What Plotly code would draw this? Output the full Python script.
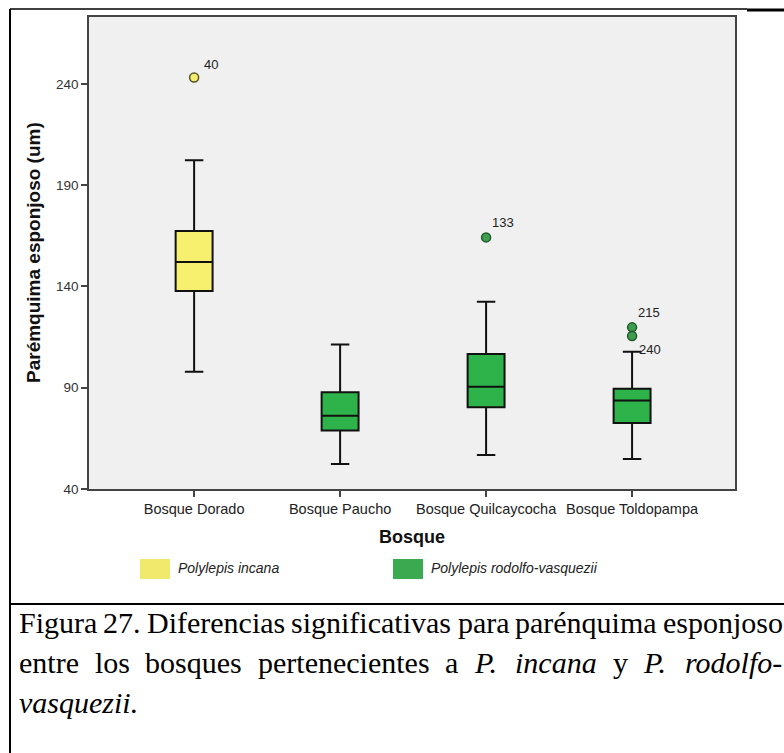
import plotly.graph_objects as go

# ---------------- data ----------------
categories = ["Bosque Dorado", "Bosque Paucho", "Bosque Quilcaycocha", "Bosque Toldopampa"]
species = ["incana", "rodolfo", "rodolfo", "rodolfo"]
q1_vals = [137.7, 68.9, 80.3, 72.6]
median_vals = [152.1, 76.2, 90.5, 83.7]
q3_vals = [167.3, 87.7, 106.6, 89.5]
lower_whisker = [97.9, 52.3, 56.8, 54.8]
upper_whisker = [202.3, 111.3, 132.4, 107.7]

outlier_cats = ["Bosque Dorado", "Bosque Quilcaycocha", "Bosque Toldopampa", "Bosque Toldopampa"]
outlier_vals = [243.1, 164.2, 119.8, 115.5]
outlier_ids = ["40", "133", "215", "240"]

y_ticks = [40, 90, 140, 190, 240]
legend_labels = ["Polylepis incana", "Polylepis rodolfo-vasquezii"]
caption_line1 = ["Figura", "27.", "Diferencias", "significativas", "para", "parénquima", "esponjoso"]
caption_line2 = ["entre", "los", "bosques", "pertenecientes", "a", "P.", "incana", "y", "P.", "rodolfo-"]
caption_line2_italic = [False, False, False, False, False, True, True, False, True, True]
caption_line3 = "vasquezii."

# ---------------- style ----------------
W, H = 784, 753
PL, PR, PT, PB = 89, 735, 17, 489   # plot area in pixels
box_fill = {"incana": "#F6F06E", "rodolfo": "#2EB34B"}
pt_fill = {"incana": "#F3EC6C", "rodolfo": "#3E9E4E"}
pt_line = {"incana": "#55552a", "rodolfo": "#1F5A2C"}
legend_fill = ["#F0E96C", "#3BA94F"]
SANS = "Arial, Liberation Sans, sans-serif"
SERIF = "Times New Roman, Liberation Serif, serif"
label_shift = [(8, 13), (4, 15), (4, 15), (5, -13)]


def xp(px):
    return (px - PL) / (PR - PL)


def yp(py):
    return (PB - py) / (PB - PT)


fig = go.Figure()

for i, cat in enumerate(categories):
    sp = species[i]
    fig.add_trace(go.Box(
        x=[cat], q1=[q1_vals[i]], median=[median_vals[i]], q3=[q3_vals[i]],
        lowerfence=[lower_whisker[i]], upperfence=[upper_whisker[i]],
        fillcolor=box_fill[sp], line=dict(color="#111111", width=2),
        width=0.253, whiskerwidth=0.5, boxpoints=False, showlegend=False,
    ))

for cat, val in zip(outlier_cats, outlier_vals):
    sp = species[categories.index(cat)]
    fig.add_trace(go.Scatter(
        x=[cat], y=[val], mode="markers", showlegend=False,
        marker=dict(size=9, color=pt_fill[sp], line=dict(color=pt_line[sp], width=1.5)),
    ))

annotations = []
for cat, val, lab, (dx, dy) in zip(outlier_cats, outlier_vals, outlier_ids, label_shift):
    annotations.append(dict(x=cat, y=val, xref="x", yref="y", text=lab, showarrow=False,
                            xanchor="left", yanchor="middle", xshift=dx, yshift=dy,
                            font=dict(family=SANS, size=13, color="#222222")))

# axis titles
annotations.append(dict(x=xp(33), y=yp(253), xref="paper", yref="paper",
                        text="<b>Parémquima esponjoso (um)</b>", textangle=-90, showarrow=False,
                        xanchor="center", yanchor="middle",
                        font=dict(family=SANS, size=19, color="#111111")))
annotations.append(dict(x=xp(412), y=yp(537), xref="paper", yref="paper",
                        text="<b>Bosque</b>", showarrow=False, xanchor="center", yanchor="middle",
                        font=dict(family=SANS, size=18, color="#111111")))

# legend
shapes = []
legend_sw_x = [140, 393]
for k in range(2):
    shapes.append(dict(type="rect", xref="paper", yref="paper",
                       x0=xp(legend_sw_x[k]), x1=xp(legend_sw_x[k] + 30),
                       y0=yp(579), y1=yp(559), fillcolor=legend_fill[k], line=dict(width=0)))
    annotations.append(dict(x=xp(legend_sw_x[k] + 36), y=yp(568), xref="paper", yref="paper",
                            text="<i>" + legend_labels[k] + "</i>", showarrow=False,
                            xanchor="left", yanchor="middle",
                            font=dict(family=SANS, size=14, color="#222222")))

# frame lines
line_k = dict(color="black", width=2)
shapes.append(dict(type="line", xref="paper", yref="paper", x0=xp(10), x1=xp(10), y0=yp(9), y1=yp(760), line=line_k))
shapes.append(dict(type="line", xref="paper", yref="paper", x0=xp(10), x1=xp(747), y0=yp(9), y1=yp(9), line=dict(color="black", width=1.5)))
shapes.append(dict(type="line", xref="paper", yref="paper", x0=xp(747), x1=xp(790), y0=yp(10), y1=yp(10), line=dict(color="black", width=3)))
shapes.append(dict(type="line", xref="paper", yref="paper", x0=xp(10), x1=xp(790), y0=yp(604), y1=yp(604), line=line_k))

# caption (justified lines)
REG = {" ": 250, ".": 250, "-": 333, "2": 500, "7": 500, "F": 556, "D": 722, "P": 556,
       "a": 444, "b": 500, "c": 444, "d": 500, "e": 444, "é": 444, "f": 333, "g": 500,
       "h": 500, "i": 278, "j": 278, "l": 278, "m": 778, "n": 500, "o": 500, "p": 500,
       "q": 500, "r": 333, "s": 389, "t": 278, "u": 500, "v": 500, "y": 500, "z": 444}
ITA = {".": 250, "-": 333, "P": 611, "a": 500, "c": 444, "d": 500, "e": 444, "f": 278,
       "i": 278, "l": 278, "n": 500, "o": 500, "q": 500, "r": 389, "s": 389, "u": 500,
       "v": 444, "y": 444, "z": 389}
CAP_SIZE = 30
CAP_L, CAP_R = 18, 782


def word_w(w, italic):
    tab = ITA if italic else REG
    return sum(tab.get(c, 500) for c in w) / 1000 * CAP_SIZE


def justify(words, italics, ypix):
    widths = [word_w(w, it) for w, it in zip(words, italics)]
    gap = (CAP_R - CAP_L - sum(widths)) / (len(words) - 1)
    x = CAP_L
    for w, it, wd in zip(words, italics, widths):
        txt = "<i>" + w + "</i>" if it else w
        annotations.append(dict(x=xp(x), y=yp(ypix), xref="paper", yref="paper", text=txt,
                                showarrow=False, xanchor="left", yanchor="middle", borderpad=0,
                                font=dict(family=SERIF, size=CAP_SIZE, color="black")))
        x += wd + gap


justify(caption_line1, [False] * len(caption_line1), 622)
justify(caption_line2, caption_line2_italic, 662)
annotations.append(dict(x=xp(CAP_L), y=yp(702), xref="paper", yref="paper",
                        text="<i>" + caption_line3 + "</i>", showarrow=False,
                        xanchor="left", yanchor="middle", borderpad=0,
                        font=dict(family=SERIF, size=CAP_SIZE, color="black")))

fig.update_layout(
    width=W, height=H, autosize=False,
    margin=dict(l=PL, r=W - PR, t=PT, b=H - PB, pad=0),
    paper_bgcolor="white", plot_bgcolor="#F0F0F0",
    boxmode="overlay", showlegend=False,
    annotations=annotations, shapes=shapes,
)
fig.update_xaxes(type="category", categoryorder="array", categoryarray=categories,
                 range=[-0.72, 3.705], showgrid=False, zeroline=False,
                 showline=True, linecolor="#444444", linewidth=1.5, mirror=True,
                 ticks="outside", ticklen=6, tickcolor="#444444", tickwidth=1.5,
                 tickfont=dict(family=SANS, size=14.5, color="#222222"))
fig.update_yaxes(range=[40, 273], tickvals=y_ticks, showgrid=False, zeroline=False,
                 showline=True, linecolor="#444444", linewidth=1.5, mirror=True,
                 ticks="outside", ticklen=6, tickcolor="#444444", tickwidth=1.5,
                 tickfont=dict(family=SANS, size=13.5, color="#333333"))

fig.write_html("out.html", config={"displayModeBar": False},
               post_script="document.body.style.margin='0px';")
